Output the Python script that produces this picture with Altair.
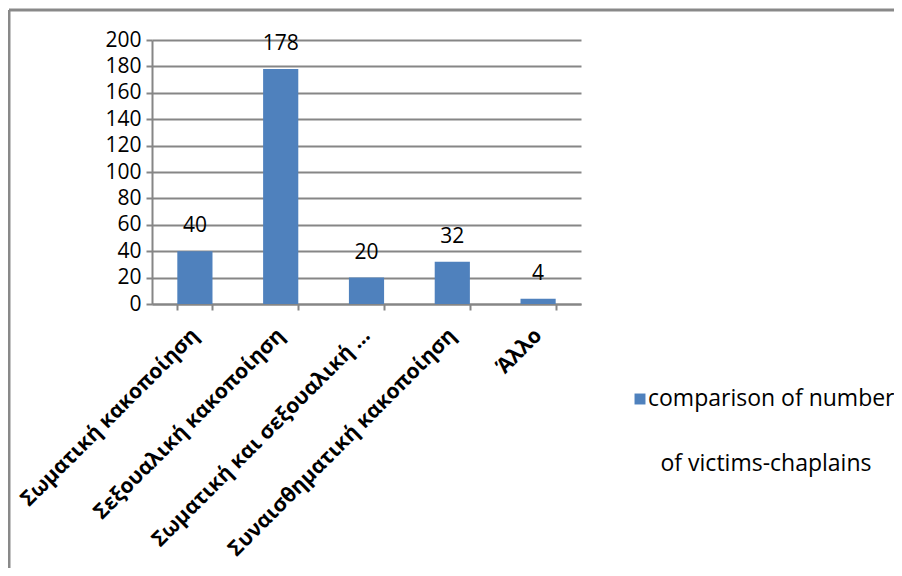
import altair as alt
import pandas as pd

categories = ["Σωματική κακοποίηση", "Σεξουαλική κακοποίηση", "Σωματική και σεξουαλική …",
              "Συναισθηματική κακοποίηση", "Άλλο"]
values = [40, 178, 20, 32, 4]
series_name = ["comparison of number", "of victims-chaplains"]
y_ticks = [0, 20, 40, 60, 80, 100, 120, 140, 160, 180, 200]

df = pd.DataFrame({"cat": categories, "val": values})

FONT = "Open Sans"
GRID = "#868686"
BAR = "#4F81BD"

x_enc = alt.X("cat:N", sort=categories, title=None,
              scale=alt.Scale(paddingInner=0.59, paddingOuter=0.295),
              axis=alt.Axis(labelAngle=-45, labelAlign="right", labelBaseline="middle",
                            labelFont=FONT, labelFontSize=21, labelFontWeight="bold",
                            labelColor="#000000", labelPadding=22, labelLimit=400,
                            labelOverlap=False,
                            tickBand="extent", tickSize=6, tickColor=GRID, tickWidth=2,
                            domainColor=GRID, domainWidth=2, grid=False))
y_enc = alt.Y("val:Q", title=None,
              scale=alt.Scale(domain=[0, 200], nice=False),
              axis=alt.Axis(values=y_ticks, tickCount=len(y_ticks), labelFont=FONT, labelFontSize=21,
                            labelColor="#000000", labelPadding=5, labelOverlap=False,
                            tickSize=6, tickColor=GRID, tickWidth=2,
                            domainColor=GRID, domainWidth=2,
                            grid=True, gridColor=GRID, gridWidth=2))

base = alt.Chart(df).encode(x=x_enc, y=y_enc)
bars = base.mark_bar(color=BAR)
labels = base.mark_text(font=FONT, fontSize=21, color="#000000", dy=-25).encode(text="val:Q")

one = df.head(1)
frame_top = alt.Chart(one).mark_rule(color="#898989", strokeWidth=3, clip=False).encode(
    x=alt.value(-143), x2=alt.value(760), y=alt.value(-30))
frame_left = alt.Chart(one).mark_rule(color="#898989", strokeWidth=3, clip=False).encode(
    x=alt.value(-143), y=alt.value(-30), y2=alt.value(600))

leg_sq = alt.Chart(one).mark_square(size=120, opacity=1, color=BAR, clip=False).encode(
    x=alt.value(488), y=alt.value(359))
leg_t1 = alt.Chart(one).mark_text(font=FONT, fontSize=23, align="left", baseline="middle",
                                  color="#000000", clip=False).encode(
    x=alt.value(496), y=alt.value(359), text=alt.value(series_name[0]))
leg_t2 = alt.Chart(one).mark_text(font=FONT, fontSize=23, align="center", baseline="middle",
                                  color="#000000", clip=False).encode(
    x=alt.value(614), y=alt.value(424), text=alt.value(series_name[1]))

chart = alt.layer(bars, labels, frame_top, frame_left, leg_sq, leg_t1, leg_t2).properties(
    width=429, height=264,
    autosize=alt.AutoSizeParams(type="none"),
    padding={"left": 144, "top": 32, "right": 313, "bottom": 264},
    background="#ffffff",
).configure_view(stroke=None)

chart.save("out.html", embed_options={"renderer": "svg", "actions": False})
